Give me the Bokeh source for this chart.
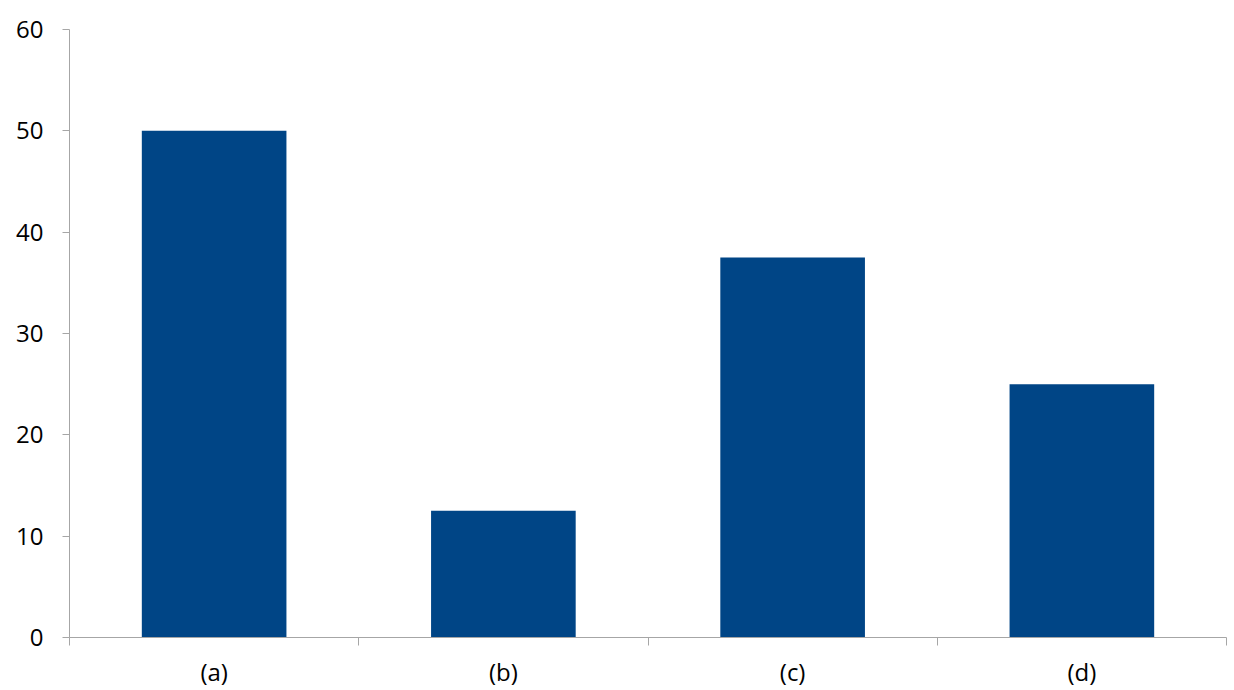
from bokeh.plotting import figure
from bokeh.models import FixedTicker, Range1d
from bokeh.embed import file_html
from bokeh.resources import INLINE

categories = ["(a)", "(b)", "(c)", "(d)"]
values = [50, 12.5, 37.5, 25]
y_ticks = [0, 10, 20, 30, 40, 50, 60]

centers = [i + 0.5 for i in range(len(categories))]

p = figure(width=1234, height=690, output_backend="svg", toolbar_location=None,
           x_range=Range1d(0, len(categories)), y_range=Range1d(0, 60),
           min_border_left=69, min_border_right=8, min_border_top=29, min_border_bottom=53)
p.outline_line_color = None
p.xgrid.grid_line_color = None
p.ygrid.grid_line_color = None

p.vbar(x=centers, top=values, width=0.5, bottom=0, color="#004586", line_color=None)

axis_color = "#a6a6a6"
font = "Open Sans"

xa = p.xaxis[0]
xa.ticker = FixedTicker(ticks=centers, minor_ticks=list(range(len(categories) + 1)))
xa.major_label_overrides = {c: lab for c, lab in zip(centers, categories)}
xa.major_tick_out = 0
xa.major_tick_in = 0
xa.minor_tick_out = 8
xa.minor_tick_in = 0
xa.minor_tick_line_color = axis_color
xa.axis_line_color = axis_color
xa.major_label_standoff = 9
xa.major_label_text_font = font
xa.major_label_text_font_size = "24px"
xa.major_label_text_color = "#000000"

ya = p.yaxis[0]
ya.ticker = FixedTicker(ticks=y_ticks)
ya.major_tick_out = 7
ya.major_tick_in = 0
ya.minor_tick_line_color = None
ya.major_tick_line_color = axis_color
ya.axis_line_color = axis_color
ya.major_label_standoff = 19
ya.major_label_text_font = font
ya.major_label_text_font_size = "24px"
ya.major_label_text_color = "#000000"

open("out.html", "w").write(file_html(p, INLINE))
